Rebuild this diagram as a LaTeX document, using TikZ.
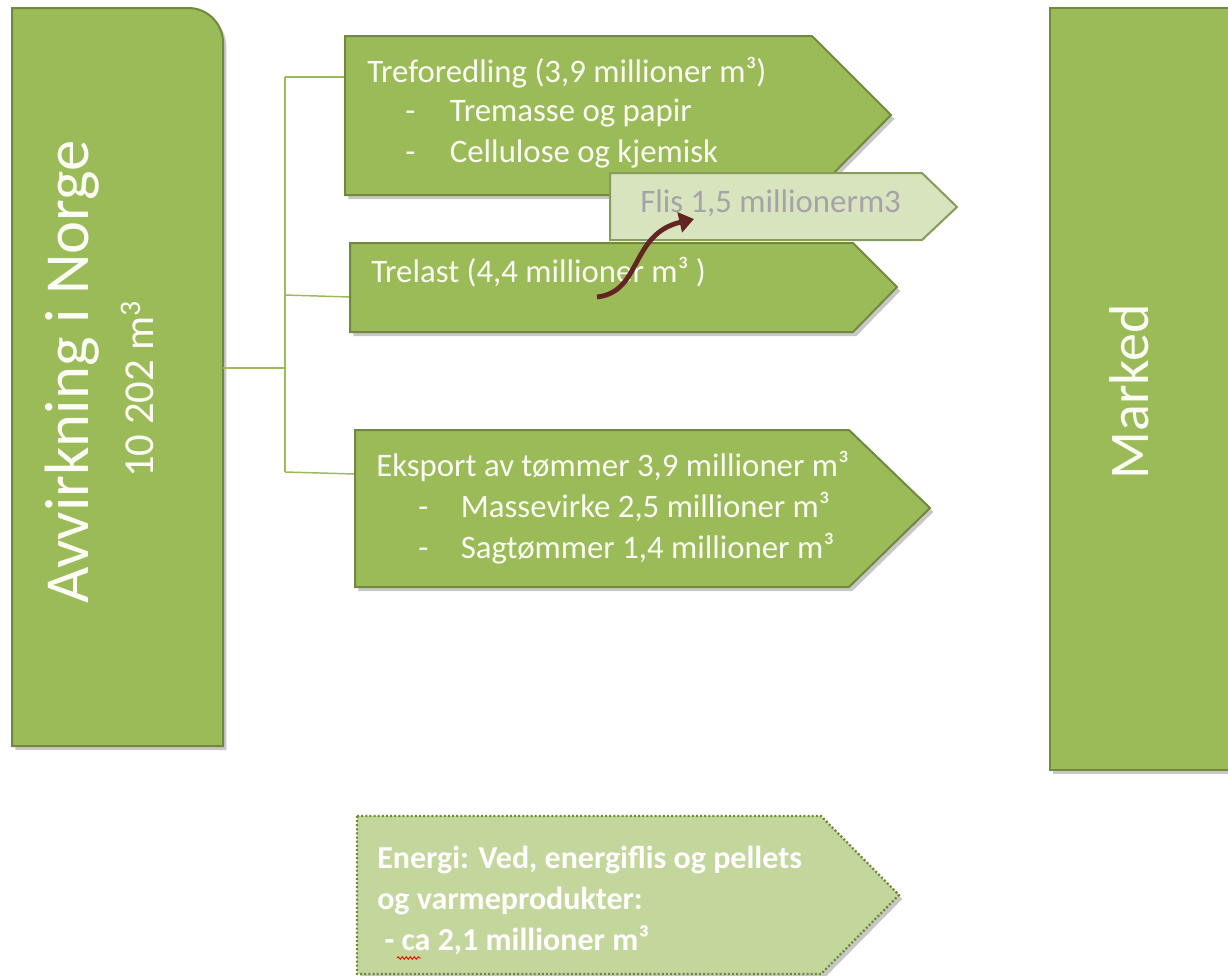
\documentclass[tikz,border=0pt]{standalone}
\usepackage{fontspec}
\setmainfont{Carlito}
\usetikzlibrary{shadows,arrows.meta,decorations.pathmorphing}
\definecolor{gfill}{HTML}{9BBB59}
\definecolor{gline}{HTML}{71893F}
\definecolor{lfill}{HTML}{D7E4BD}
\definecolor{efill}{HTML}{C3D69B}
\definecolor{dotc}{HTML}{6A8A34}
\definecolor{arrc}{HTML}{632523}
\definecolor{flisc}{HTML}{A6A2AA}
\definecolor{txtc}{HTML}{FBFCF3}
\begin{document}
\begin{tikzpicture}[x=0.75pt,y=-0.75pt,
  sh/.style={drop shadow={shadow xshift=2.5pt,shadow yshift=-3pt,opacity=0.22,fill=black}},
  gbox/.style={fill=gfill,draw=gline,line width=1.5pt,line join=miter,sh},
  lbox/.style={fill=lfill,draw=gline!85,line width=1.5pt,line join=miter},
  ebox/.style={fill=efill,draw=dotc,line width=1.7pt,dash pattern=on 1.5pt off 1.6pt,sh},
  conn/.style={draw=gfill,line width=1.1pt},
  btext/.style={text=txtc,font=\fontsize{24.6}{30}\selectfont,anchor=base west,inner sep=0pt},
  etext/.style={text=white,font=\fontsize{24}{30}\selectfont\bfseries,anchor=base west,inner sep=0pt},
  rtext/.style={text=txtc,rotate=90,anchor=base,inner sep=0pt}]
\useasboundingbox (0,0) rectangle (1228,975);

% left box
\draw[gbox] (12,746) -- (12,8) [rounded corners=26pt] -- (223,8) [sharp corners] -- (223,746) -- cycle;
\node[rtext,font=\fontsize{47}{50}\selectfont] (avv) at (88,372) {Avvirkning i Norge};
\node[rtext,font=\fontsize{32}{36}\selectfont] (vol) at (153,389) {10 202 m\textsuperscript{3}};

% right box
\draw[gbox] (1050,8) rectangle (1236,770);
\node[rtext,font=\fontsize{42}{46}\selectfont] (mk) at (1148,392) {Marked};

% connectors
\coordinate (avvE) at (223,368);
\coordinate (bus) at (285,368);
\coordinate (busT) at (285,77);
\coordinate (busM) at (285,295);
\coordinate (busB) at (285,472);
\coordinate (tfW) at (345,77);
\coordinate (tlW) at (350,297);
\coordinate (ekW) at (355,474);
\draw[conn] (avvE) -- (bus);
\draw[conn] (busT) -- (busB);
\draw[conn] (busT) -- (tfW);
\draw[conn] (busM) -- (tlW);
\draw[conn] (busB) -- (ekW);

% Treforedling
\draw[gbox] (345,36) -- (812,36) -- (891,115) -- (812,195) -- (345,195) -- cycle;
\node[btext] (tf1) at (367,82) {Treforedling (3,9 millioner m³)};
\node[btext] (tf2) at (405,121) {\makebox[33.5pt][l]{-}Tremasse og papir};
\node[btext] (tf3) at (405,162) {\makebox[33.5pt][l]{-}Cellulose og kjemisk};

% Trelast
\draw[gbox] (350,243) -- (853,243) -- (897,287) -- (853,332) -- (350,332) -- cycle;
\node[btext] (tl1) at (371,282) {Trelast (4,4 millioner m³ )};

% Flis
\draw[lbox] (610,173) -- (922,173) -- (957,207) -- (922,240) -- (610,240) -- cycle;
\node[btext,text=flisc] (fl) at (640,212) {Flis 1,5 millionerm3};

% arrow
\coordinate (arrS) at (597,297);
\coordinate (arrE) at (694,219);
\draw[arrc,line width=3.6pt,-{Triangle[length=11pt,width=15pt]}] (arrS) .. controls (642,292) and (630,234) .. (arrE);

% Eksport
\draw[gbox] (355,430) -- (849,430) -- (930,508) -- (849,587) -- (355,587) -- cycle;
\node[btext] (ek1) at (376,476) {Eksport av tømmer 3,9 millioner m³};
\node[btext] (ek2) at (418,517) {\makebox[32pt][l]{-}Massevirke 2,5 millioner m³};
\node[btext] (ek3) at (418,558) {\makebox[32pt][l]{-}Sagtømmer 1,4 millioner m³};

% Energi
\draw[ebox] (357,816) -- (821,816) -- (899,895) -- (821,974) -- (357,974) -- cycle;
\node[etext] (en1) at (377,868) {Energi: Ved, energiflis og pellets};
\node[etext] (en2) at (377,909) {og varmeprodukter:};
\node[etext] (en3) at (377,950) {\ - ca 2,1 millioner m³};
\coordinate (sqA) at (397,958);
\coordinate (sqB) at (421,958);
\draw[red,line width=0.7pt,decorate,decoration={snake,amplitude=0.9pt,segment length=3pt}] (sqA) -- (sqB);
\end{tikzpicture}
\end{document}
